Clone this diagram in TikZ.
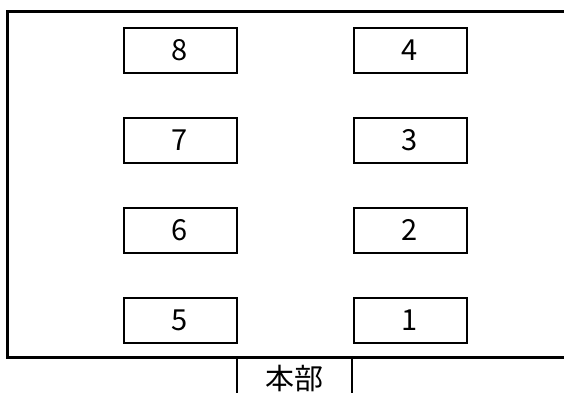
\documentclass[tikz,border=0pt]{standalone}
\usepackage{fontspec}
\newfontfamily\jp{Noto Sans CJK JP}
\tikzset{
  seat/.style={draw, line width=2pt, minimum width=113pt, minimum height=45pt, inner sep=0pt, font=\jp\fontsize{29}{29}\selectfont},
  frame/.style={line width=3pt},
}
\begin{document}
\begin{tikzpicture}[x=1pt,y=-1pt]
\useasboundingbox (0,0) rectangle (564,392);
\clip (0,0) rectangle (564,392);
\draw[frame] (580,11) -- (7.5,11) -- (7.5,357) -- (580,357);
\node[seat] (n8) at (180,50) {8};
\node[seat] (n7) at (180,140) {7};
\node[seat] (n6) at (180,230) {6};
\node[seat] (n5) at (180,320) {5};
\node[seat] (n4) at (410,50) {4};
\node[seat] (n3) at (410,140) {3};
\node[seat] (n2) at (410,230) {2};
\node[seat] (n1) at (410,320) {1};
\coordinate (hl) at (237,357);
\coordinate (hr) at (352,357);
\coordinate (hlb) at (237,400);
\coordinate (hrb) at (352,400);
\draw[line width=2.5pt] (hl) -- (hlb);
\draw[line width=2.5pt] (hr) -- (hrb);
\node[font=\jp\fontsize{29}{29}\selectfont, inner sep=0pt] (hq) at (294.5,378) {本部};
\end{tikzpicture}
\end{document}
